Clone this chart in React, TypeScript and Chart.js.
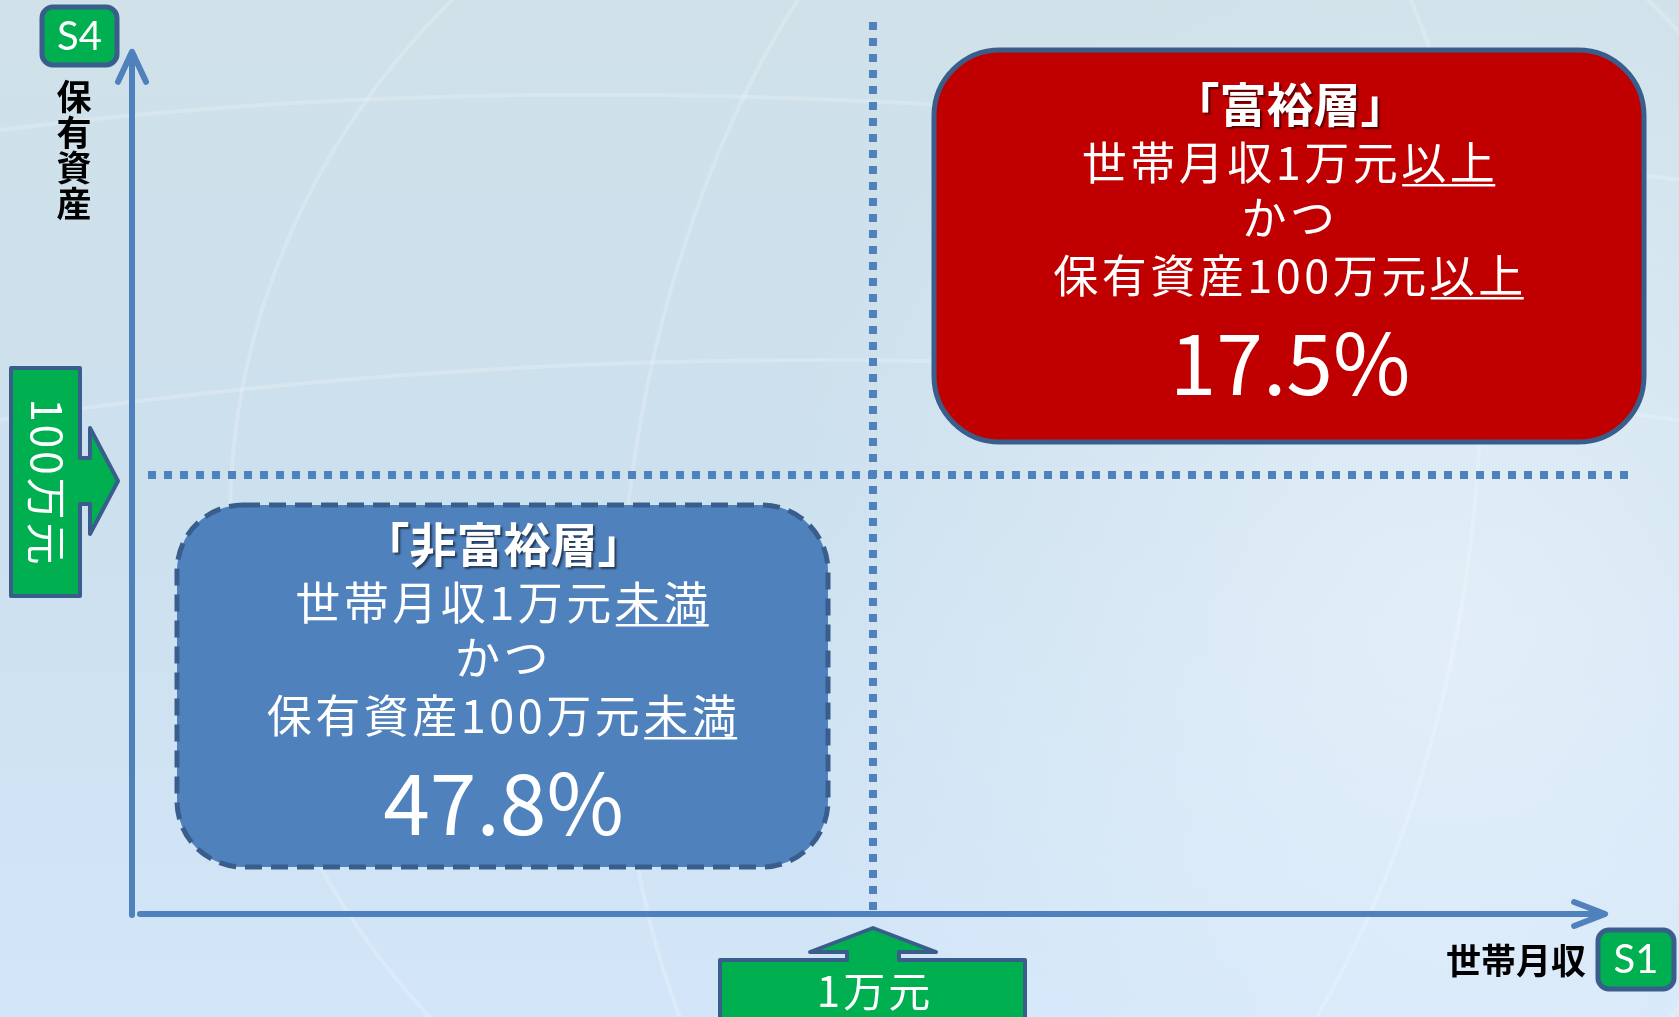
import { useEffect, useRef } from 'react';
import { Chart, registerables } from 'chart.js';
Chart.register(...registerables);

// ---- data ----
const segmentNames = ['「富裕層」', '「非富裕層」'];
const incomeStems = ['世帯月収1万元', '世帯月収1万元'];
const assetStems = ['保有資産100万元', '保有資産100万元'];
const conditionWords = ['以上', '未満'];
const joinWord = 'かつ';
const segmentShares = [17.5, 47.8];
const incomeThreshold = 1; // 万元 / month
const assetThreshold = 100; // 万元
const thresholdLabels = ['1万元', '100万元'];
const axisTitles = ['世帯月収', '保有資産'];
const axisTags = ['S1', 'S4'];
const axisMax = [2, 200];

const CJK = '"Noto Sans CJK JP", "Noto Sans CJK SC", sans-serif';
const LATIN = 'Lato, "Open Sans", sans-serif';
const AXIS_BLUE = '#4F81BD';
const BORDER_BLUE = '#3A5E8C';
const GREEN = '#00B050';

function drawCentered(ctx: CanvasRenderingContext2D, stem: string, word: string, cx: number, cy: number) {
  const ws = ctx.measureText(stem).width;
  const ww = ctx.measureText(word).width;
  const x0 = cx - (ws + ww) / 2;
  ctx.textAlign = 'left';
  ctx.fillText(stem, x0, cy);
  ctx.fillText(word, x0 + ws, cy);
  ctx.fillRect(x0 + ws + 1, cy + 21, ww - 4, 2.5);
}

const diagramPlugin = {
  id: 'quadrantDiagram',
  beforeDraw(chart: any) {
    const { ctx, width, height } = chart;
    ctx.save();
    const g = ctx.createLinearGradient(0, 0, 0, height);
    g.addColorStop(0, '#d0e1e9');
    g.addColorStop(0.5, '#cce0ee');
    g.addColorStop(1, '#d3e6f9');
    ctx.fillStyle = g;
    ctx.fillRect(0, 0, width, height);
    const r = ctx.createRadialGradient(1450, 620, 50, 1450, 620, 700);
    r.addColorStop(0, 'rgba(240,248,255,0.55)');
    r.addColorStop(1, 'rgba(240,248,255,0)');
    ctx.fillStyle = r;
    ctx.fillRect(0, 0, width, height);
    // faint globe lines
    ctx.strokeStyle = 'rgba(255,255,255,0.2)';
    ctx.lineWidth = 4;
    ctx.beginPath();
    ctx.ellipse(1050, 520, 820, 760, 0, 0, Math.PI * 2);
    ctx.stroke();
    ctx.beginPath();
    ctx.ellipse(1050, 520, 420, 760, 0.15, 0, Math.PI * 2);
    ctx.stroke();
    ctx.beginPath();
    ctx.moveTo(0, 130);
    ctx.quadraticCurveTo(700, 40, 1679, 180);
    ctx.stroke();
    ctx.beginPath();
    ctx.moveTo(0, 420);
    ctx.quadraticCurveTo(800, 300, 1679, 420);
    ctx.stroke();
    ctx.restore();
  },
  afterDraw(chart: any) {
    const { ctx } = chart;
    const xs = chart.scales.x;
    const ys = chart.scales.y;
    const x0 = xs.getPixelForValue(0);
    const y0 = ys.getPixelForValue(0);
    const xT = xs.getPixelForValue(incomeThreshold);
    const yT = ys.getPixelForValue(assetThreshold);
    const xEnd = xs.getPixelForValue(axisMax[0] * 0.994);
    const yEnd = ys.getPixelForValue(axisMax[1] * 0.982);
    ctx.save();

    // dotted threshold lines
    ctx.fillStyle = AXIS_BLUE;
    for (let y = y0 - 12; y >= 20; y -= 16) ctx.fillRect(xT - 4, y, 8, 8);
    for (let x = x0 + 16; x <= 1622; x += 16) ctx.fillRect(x, yT - 4, 8, 8);

    // axes
    ctx.strokeStyle = AXIS_BLUE;
    ctx.lineWidth = 6;
    ctx.lineCap = 'round';
    ctx.lineJoin = 'round';
    ctx.beginPath();
    ctx.moveTo(x0, y0 + 1);
    ctx.lineTo(x0, yEnd + 2);
    ctx.stroke();
    ctx.beginPath();
    ctx.moveTo(x0 - 14, yEnd + 30);
    ctx.lineTo(x0, yEnd);
    ctx.lineTo(x0 + 14, yEnd + 30);
    ctx.stroke();
    ctx.beginPath();
    ctx.moveTo(x0 + 8, y0);
    ctx.lineTo(xEnd - 2, y0);
    ctx.stroke();
    ctx.beginPath();
    ctx.moveTo(xEnd - 31, y0 - 12);
    ctx.lineTo(xEnd, y0);
    ctx.lineTo(xEnd - 31, y0 + 12);
    ctx.stroke();

    // segment boxes
    const boxes = [
      { l: xT + 61, r: 1644, t: 50, b: yT - 33, fill: '#C00000', dash: [] as number[] },
      { l: x0 + 45, r: xT - 45, t: yT + 30, b: y0 - 47, fill: '#4F81BD', dash: [17, 9] },
    ];
    boxes.forEach((bx, i) => {
      ctx.beginPath();
      ctx.roundRect(bx.l, bx.t, bx.r - bx.l, bx.b - bx.t, 66);
      ctx.fillStyle = bx.fill;
      ctx.fill();
      ctx.setLineDash(bx.dash);
      ctx.lineCap = 'butt';
      ctx.lineWidth = 5;
      ctx.strokeStyle = BORDER_BLUE;
      ctx.stroke();
      ctx.setLineDash([]);
      const cx = (bx.l + bx.r) / 2 + 1;
      const cy = (bx.t + bx.b) / 2;
      ctx.fillStyle = '#ffffff';
      ctx.textBaseline = 'middle';
      // title with shadow
      ctx.save();
      ctx.shadowColor = 'rgba(0,0,0,0.55)';
      ctx.shadowOffsetX = 2;
      ctx.shadowOffsetY = 2;
      ctx.shadowBlur = 2;
      ctx.font = `bold 47px ${CJK}`;
      ctx.textAlign = 'center';
      ctx.fillText(segmentNames[i], cx, cy - 142);
      ctx.restore();
      ctx.font = `45px ${CJK}`;
      (ctx as any).letterSpacing = '3.5px';
      drawCentered(ctx, incomeStems[i], conditionWords[i], cx, cy - 83);
      ctx.textAlign = 'center';
      ctx.fillText(joinWord, cx, cy - 28);
      drawCentered(ctx, assetStems[i], conditionWords[i], cx, cy + 30);
      (ctx as any).letterSpacing = '0px';
      ctx.font = `84px ${CJK}`;
      ctx.textAlign = 'center';
      ctx.fillText(`${segmentShares[i].toFixed(1)}%`, cx, cy + 117);
    });

    // green block arrows
    ctx.lineWidth = 4;
    ctx.lineJoin = 'round';
    ctx.strokeStyle = BORDER_BLUE;
    ctx.fillStyle = GREEN;
    // left arrow (asset threshold)
    const ay = yT + 6;
    ctx.beginPath();
    ctx.moveTo(11, ay - 113);
    ctx.lineTo(80, ay - 113);
    ctx.lineTo(80, ay - 23);
    ctx.lineTo(90, ay - 23);
    ctx.lineTo(90, ay - 53);
    ctx.lineTo(118, ay);
    ctx.lineTo(90, ay + 53);
    ctx.lineTo(90, ay + 23);
    ctx.lineTo(80, ay + 23);
    ctx.lineTo(80, ay + 115);
    ctx.lineTo(11, ay + 115);
    ctx.closePath();
    ctx.fill();
    ctx.stroke();
    // bottom arrow (income threshold)
    const ax = xT;
    ctx.beginPath();
    ctx.moveTo(ax - 153, 1030);
    ctx.lineTo(ax - 153, 960);
    ctx.lineTo(ax - 26, 960);
    ctx.lineTo(ax - 26, 952);
    ctx.lineTo(ax - 63, 952);
    ctx.lineTo(ax, 928);
    ctx.lineTo(ax + 63, 952);
    ctx.lineTo(ax + 26, 952);
    ctx.lineTo(ax + 26, 960);
    ctx.lineTo(ax + 152, 960);
    ctx.lineTo(ax + 152, 1030);
    ctx.closePath();
    ctx.fill();
    ctx.stroke();

    ctx.fillStyle = '#ffffff';
    ctx.textAlign = 'center';
    ctx.textBaseline = 'middle';
    ctx.font = `42px ${CJK}`;
    (ctx as any).letterSpacing = '3px';
    ctx.fillText(thresholdLabels[0], ax + 2, 991);
    ctx.save();
    ctx.translate(47, ay);
    ctx.rotate(Math.PI / 2);
    ctx.fillText(thresholdLabels[1], 2, 0);
    ctx.restore();
    (ctx as any).letterSpacing = '0px';

    // tags S1 / S4
    const tag = (l: number, t: number, w: number, h: number, label: string) => {
      ctx.beginPath();
      ctx.roundRect(l, t, w, h, 11);
      ctx.fillStyle = GREEN;
      ctx.fill();
      ctx.lineWidth = 5;
      ctx.strokeStyle = BORDER_BLUE;
      ctx.stroke();
      ctx.fillStyle = '#ffffff';
      ctx.font = `40px ${LATIN}`;
      ctx.textAlign = 'center';
      ctx.textBaseline = 'middle';
      ctx.fillText(label, l + w / 2, t + h / 2 + 1);
    };
    tag(42, 7, 75, 58, axisTags[1]);
    tag(1598, 930, 76, 59, axisTags[0]);

    // axis titles
    ctx.fillStyle = '#000000';
    ctx.font = `bold 35px ${CJK}`;
    ctx.textAlign = 'right';
    ctx.textBaseline = 'middle';
    ctx.fillText(axisTitles[0], 1586, 961);
    ctx.textAlign = 'center';
    Array.from(axisTitles[1]).forEach((ch, k) => {
      ctx.fillText(ch, 74, 97 + k * 35.5);
    });

    ctx.restore();
  },
};

export default function App() {
  const ref = useRef<HTMLCanvasElement>(null);
  useEffect(() => {
    document.body.style.margin = '0';
    const chart = new Chart(ref.current!, {
      type: 'scatter',
      data: {
        datasets: [
          {
            label: '区分',
            data: [
              { x: (incomeThreshold + axisMax[0]) / 2, y: (assetThreshold + axisMax[1]) / 2 },
              { x: incomeThreshold / 2, y: assetThreshold / 2 },
            ],
            pointRadius: 0,
          },
        ],
      },
      options: {
        responsive: false,
        animation: false,
        devicePixelRatio: 1,
        layout: { padding: { left: 132, right: 65, top: 36, bottom: 103 } },
        scales: {
          x: { type: 'linear', min: 0, max: axisMax[0], display: false },
          y: { type: 'linear', min: 0, max: axisMax[1], display: false },
        },
        plugins: { legend: { display: false }, tooltip: { enabled: false } },
      },
      plugins: [diagramPlugin],
    });
    return () => chart.destroy();
  }, []);
  return <canvas ref={ref} width={1679} height={1017} style={{ display: 'block' }} />;
}
